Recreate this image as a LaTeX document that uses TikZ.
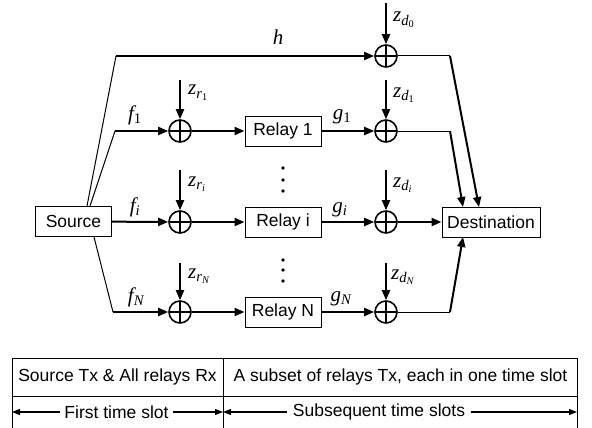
\documentclass[tikz,border=0pt]{standalone}
\usepackage{fontspec}
\setmainfont{Liberation Sans}
\newfontfamily\tms{Liberation Serif}
\usetikzlibrary{arrows.meta}
\newcommand{\mv}[1]{{\tms\itshape #1}}
\newcommand{\sbs}[1]{\textsubscript{#1}}
\tikzset{
  blk/.style={draw, line width=1pt, minimum width=76pt, minimum height=30pt, inner sep=0pt, font=\fontsize{17.5}{20}\selectfont},
  addr/.style={circle, draw, line width=1.6pt, minimum size=22pt, inner sep=0pt,
    path picture={\draw[line width=1.6pt] (path picture bounding box.north) -- (path picture bounding box.south)
      (path picture bounding box.west) -- (path picture bounding box.east);}},
  arr/.style={line width=2pt, -{Triangle[length=10pt,width=8pt]}},
  thn/.style={line width=1pt},
  mlab/.style={font=\fontsize{21}{24}\selectfont, inner sep=0pt},
  txt/.style={font=\fontsize{17.5}{20}\selectfont, inner sep=0pt},
  tarr/.style={line width=1.2pt, -{Triangle[length=8pt,width=6pt]}},
}
\begin{document}
\begin{tikzpicture}[x=1pt,y=-1pt]
\useasboundingbox (0,0) rectangle (592,428);
% blocks
\node[blk] (src) at (73.5,221.5) {Source};
\node[blk] (r1) at (283,131) {Relay 1};
\node[blk] (ri) at (283,222) {Relay i};
\node[blk] (rN) at (283,312) {Relay N};
\node[blk, minimum width=98pt] (dst) at (491,222) {Destination};
% adders
\node[addr] (a1) at (180,131) {};
\node[addr] (ai) at (180,222) {};
\node[addr] (aN) at (180,312) {};
\node[addr] (b0) at (386,56) {};
\node[addr] (b1) at (386,131) {};
\node[addr] (bi) at (386,222) {};
\node[addr] (bN) at (386,312) {};
% coordinates
\coordinate (s0) at (87,206);
\coordinate (c0) at (116,56);
\coordinate (s1) at (90,206);
\coordinate (c1) at (115,131);
\coordinate (sN) at (94,237);
\coordinate (cN) at (113,312);
\coordinate (n1) at (180,80);
\coordinate (ni) at (180,170);
\coordinate (nN) at (180,263);
\coordinate (m0) at (386,3);
\coordinate (m1) at (386,80);
\coordinate (mi) at (386,170);
\coordinate (mN) at (386,263);
\coordinate (e0) at (450,56);
\coordinate (e1) at (450,131);
\coordinate (eN) at (450,312);
\coordinate (t0) at (479,207);
\coordinate (t1) at (463,207);
\coordinate (tN) at (463,237);
% source branches
\draw[thn] (s0) -- (c0);
\draw[arr] (c0) -- (b0);
\draw[thn] (s1) -- (c1);
\draw[arr] (c1) -- (a1);
\draw[arr] (src) -- (ai);
\draw[thn] (sN) -- (cN);
\draw[arr] (cN) -- (aN);
% noise
\draw[arr] (n1) -- (a1);
\draw[arr] (ni) -- (ai);
\draw[arr] (nN) -- (aN);
\draw[arr] (m0) -- (b0);
\draw[arr] (m1) -- (b1);
\draw[arr] (mi) -- (bi);
\draw[arr] (mN) -- (bN);
% relays
\draw[arr] (a1) -- (r1);
\draw[arr] (ai) -- (ri);
\draw[arr] (aN) -- (rN);
\draw[arr] (r1) -- (b1);
\draw[arr] (ri) -- (bi);
\draw[arr] (rN) -- (bN);
% to destination
\draw[thn] (b0) -- (e0);
\draw[arr] (e0) -- (t0);
\draw[thn] (b1) -- (e1);
\draw[arr] (e1) -- (t1);
\draw[arr] (bi) -- (dst);
\draw[thn] (bN) -- (eN);
\draw[arr] (eN) -- (tN);
% dots
\foreach \yy in {168,180,191,260,270,281} \fill (283,\yy) circle (1.8pt);
% labels
\node[mlab] (lh) at (278,37) {\mv{h}};
\node[mlab] (lf1) at (135,115) {\mv{f\sbs{\upshape 1}}};
\node[mlab] (lfi) at (135,207) {\mv{f\sbs{i}}};
\node[mlab] (lfN) at (136,297) {\mv{f\sbs{N}}};
\node[mlab] (lg1) at (342,117) {\mv{g\sbs{\upshape 1}}};
\node[mlab] (lgi) at (340,210) {\mv{g\sbs{i}}};
\node[mlab] (lgN) at (341,299) {\mv{g\sbs{N}}};
\node[mlab, anchor=base west] (lzr1) at (188,95) {\mv{z\sbs{r\sbs{\upshape 1}}}};
\node[mlab, anchor=base west] (lzri) at (188,186) {\mv{z\sbs{r\sbs{i}}}};
\node[mlab, anchor=base west] (lzrN) at (188,278) {\mv{z\sbs{r\sbs{N}}}};
\node[mlab, anchor=base west] (lzd0) at (393,22) {\mv{z\sbs{d\sbs{\upshape 0}}}};
\node[mlab, anchor=base west] (lzd1) at (393,97) {\mv{z\sbs{d\sbs{\upshape 1}}}};
\node[mlab, anchor=base west] (lzdi) at (393,187) {\mv{z\sbs{d\sbs{i}}}};
\node[mlab, anchor=base west] (lzdN) at (391,279) {\mv{z\sbs{d\sbs{N}}}};
% table
\draw[thn] (12,428) -- (12,358) -- (577,358) -- (577,428);
\draw[thn] (12,396) -- (577,396);
\draw[thn] (223,358) -- (223,428);
\node[txt] (tx1) at (117.5,377) {Source Tx \& All relays Rx};
\node[txt] (tx2) at (400.5,377) {A subset of relays Tx, each in one time slot};
\node[txt, inner sep=4pt] (tx3) at (116.5,412) {First time slot};
\node[txt, inner sep=6pt] (tx4) at (379,412) {Subsequent time slots};
\coordinate (L1) at (12,412);
\coordinate (L2) at (223,412);
\coordinate (L4) at (577,412);
\draw[tarr] (tx3.west) -- (L1);
\draw[tarr] (tx3.east) -- (L2);
\draw[tarr] (tx4.west) -- (L2);
\draw[tarr] (tx4.east) -- (L4);
\end{tikzpicture}
\end{document}
